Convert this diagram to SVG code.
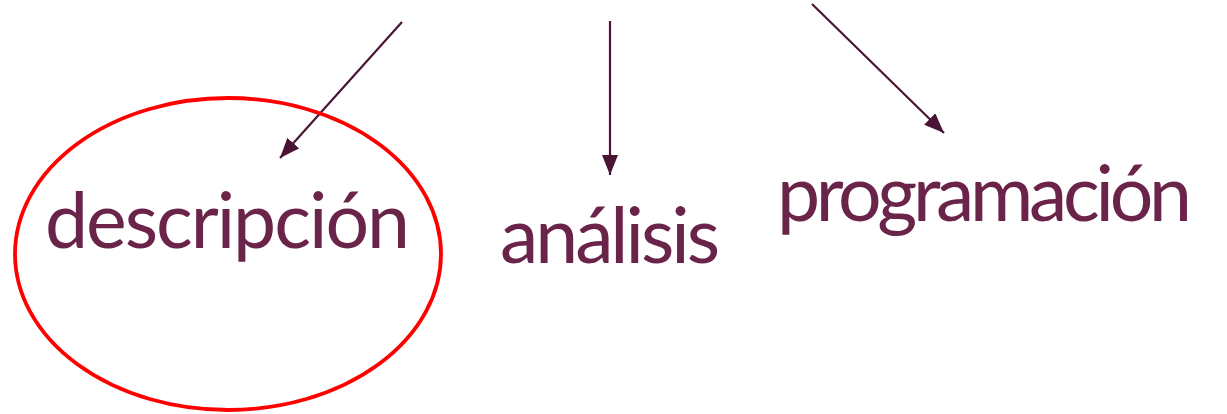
<svg xmlns="http://www.w3.org/2000/svg" width="1227" height="414" viewBox="0 0 1227 414">
<style>
.lbl{font-family:Lato,"Open Sans","Liberation Sans",sans-serif;font-size:77px;fill:#6B2449}
.conn{stroke:#4A1535;stroke-width:2.2;fill:none}
</style>
<defs>
<marker id="arr" viewBox="0 0 20 16" refX="20" refY="8" markerWidth="20" markerHeight="16" markerUnits="userSpaceOnUse" orient="auto">
<path d="M0,0 L20,8 L0,16 Z" fill="#4A1535"/>
</marker>
</defs>
<rect width="1227" height="414" fill="#fff"/>
<g id="connectors">
<line class="conn" x1="402" y1="22" x2="280" y2="158" marker-end="url(#arr)"/>
<line class="conn" x1="610" y1="21" x2="610" y2="175" marker-end="url(#arr)"/>
<line class="conn" x1="812" y1="4" x2="944" y2="133" marker-end="url(#arr)"/>
</g>
<g id="descripcion">
<ellipse cx="228" cy="254" rx="213" ry="156" fill="none" stroke="#FF0000" stroke-width="3.8"/>
<text class="lbl" x="45" y="248" textLength="365">descripción</text>
</g>
<g id="analisis">
<text class="lbl" x="500" y="263" textLength="220">análisis</text>
</g>
<g id="programacion">
<text class="lbl" x="777" y="221" textLength="415">programación</text>
</g>
</svg>
